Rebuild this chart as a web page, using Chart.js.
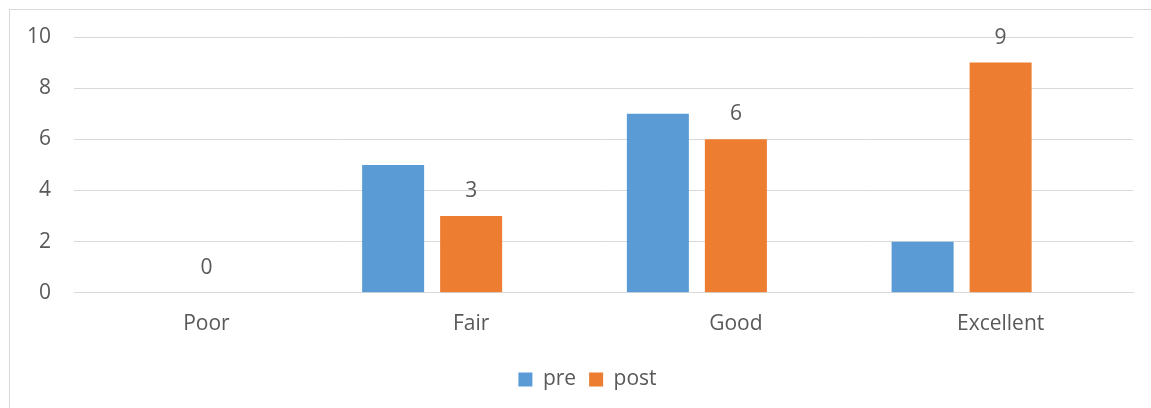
<!DOCTYPE html>
<html>
<head>
<meta charset="utf-8">
<script src="https://cdn.jsdelivr.net/npm/chart.js@4"></script>
<style>
  html, body { margin: 0; padding: 0; background: #fff; overflow: hidden; }
  #frame { position: absolute; left: 9px; top: 9px; width: 1200px; height: 500px; border: 1px solid #d9d9d9; }
  #wrap { position: absolute; left: 0; top: 0; width: 1151px; height: 408px; }
</style>
</head>
<body>
<div id="frame"></div>
<div id="wrap"><canvas id="ratingChart"></canvas></div>
<script>
const categories = ['Poor', 'Fair', 'Good', 'Excellent'];
const preValues = [0, 5, 7, 2];
const postValues = [0, 3, 6, 9];
// empty third slot, the source chart keeps room for it on the right of each group
const spacerValues = [null, null, null, null];
const yTicks = [0, 2, 4, 6, 8, 10];

const textColor = '#595959';
const fontFamily = "'Open Sans', sans-serif";
const fontSize = 21;

// values over the post bars only
const postLabels = {
    id: 'postLabels',
    afterDatasetsDraw(chart) {
        const ctx = chart.ctx;
        const meta = chart.getDatasetMeta(1);
        ctx.save();
        ctx.fillStyle = textColor;
        ctx.font = fontSize + 'px ' + fontFamily;
        ctx.textAlign = 'center';
        ctx.textBaseline = 'middle';
        meta.data.forEach((bar, i) => {
            ctx.fillText(String(postValues[i]), bar.x, bar.y - 25);
        });
        ctx.restore();
    }
};

// legend sits a bit right of centre in the original
const legendShift = {
    id: 'legendShift',
    afterLayout(chart) {
        if (!chart.legend) return;
        chart.legend.left += 19;
        chart.legend.right += 19;
    }
};

window.renderRatingChart = function (canvasId = 'ratingChart') {
    const ctx = document.getElementById(canvasId);
    if (!ctx) return;

    const config = {
        type: 'bar',
        data: {
            labels: categories,
            datasets: [
                { label: 'pre', data: preValues, backgroundColor: '#5B9BD5' },
                { label: 'post', data: postValues, backgroundColor: '#ED7D31' },
                { label: '', data: spacerValues, backgroundColor: 'rgba(0,0,0,0)' }
            ]
        },
        options: {
            responsive: true,
            maintainAspectRatio: false,
            animation: false,
            categoryPercentage: 0.884,
            barPercentage: 0.795,
            layout: {
                padding: { left: 4, right: 18, top: 37, bottom: 8 }
            },
            plugins: {
                tooltip: { enabled: false },
                title: { display: false },
                legend: {
                    position: 'bottom',
                    labels: {
                        color: textColor,
                        font: { family: fontFamily, size: fontSize },
                        boxWidth: 14,
                        boxHeight: 14,
                        padding: 13,
                        filter: item => item.text !== ''
                    }
                }
            },
            scales: {
                x: {
                    grid: { display: false, drawTicks: false },
                    border: { display: true, color: '#d9d9d9', width: 1 },
                    ticks: {
                        color: textColor,
                        font: { family: fontFamily, size: fontSize },
                        padding: 19
                    }
                },
                y: {
                    min: 0,
                    max: 10,
                    afterBuildTicks: axis => {
                        axis.ticks = yTicks.map(v => ({ value: v }));
                    },
                    grid: { color: '#d9d9d9', lineWidth: 1, drawTicks: false },
                    border: { display: false },
                    ticks: {
                        color: textColor,
                        font: { family: fontFamily, size: fontSize },
                        padding: 23
                    }
                }
            }
        },
        plugins: [postLabels, legendShift]
    };

    new Chart(ctx, config);
};

window.renderRatingChart();
</script>
</body>
</html>
